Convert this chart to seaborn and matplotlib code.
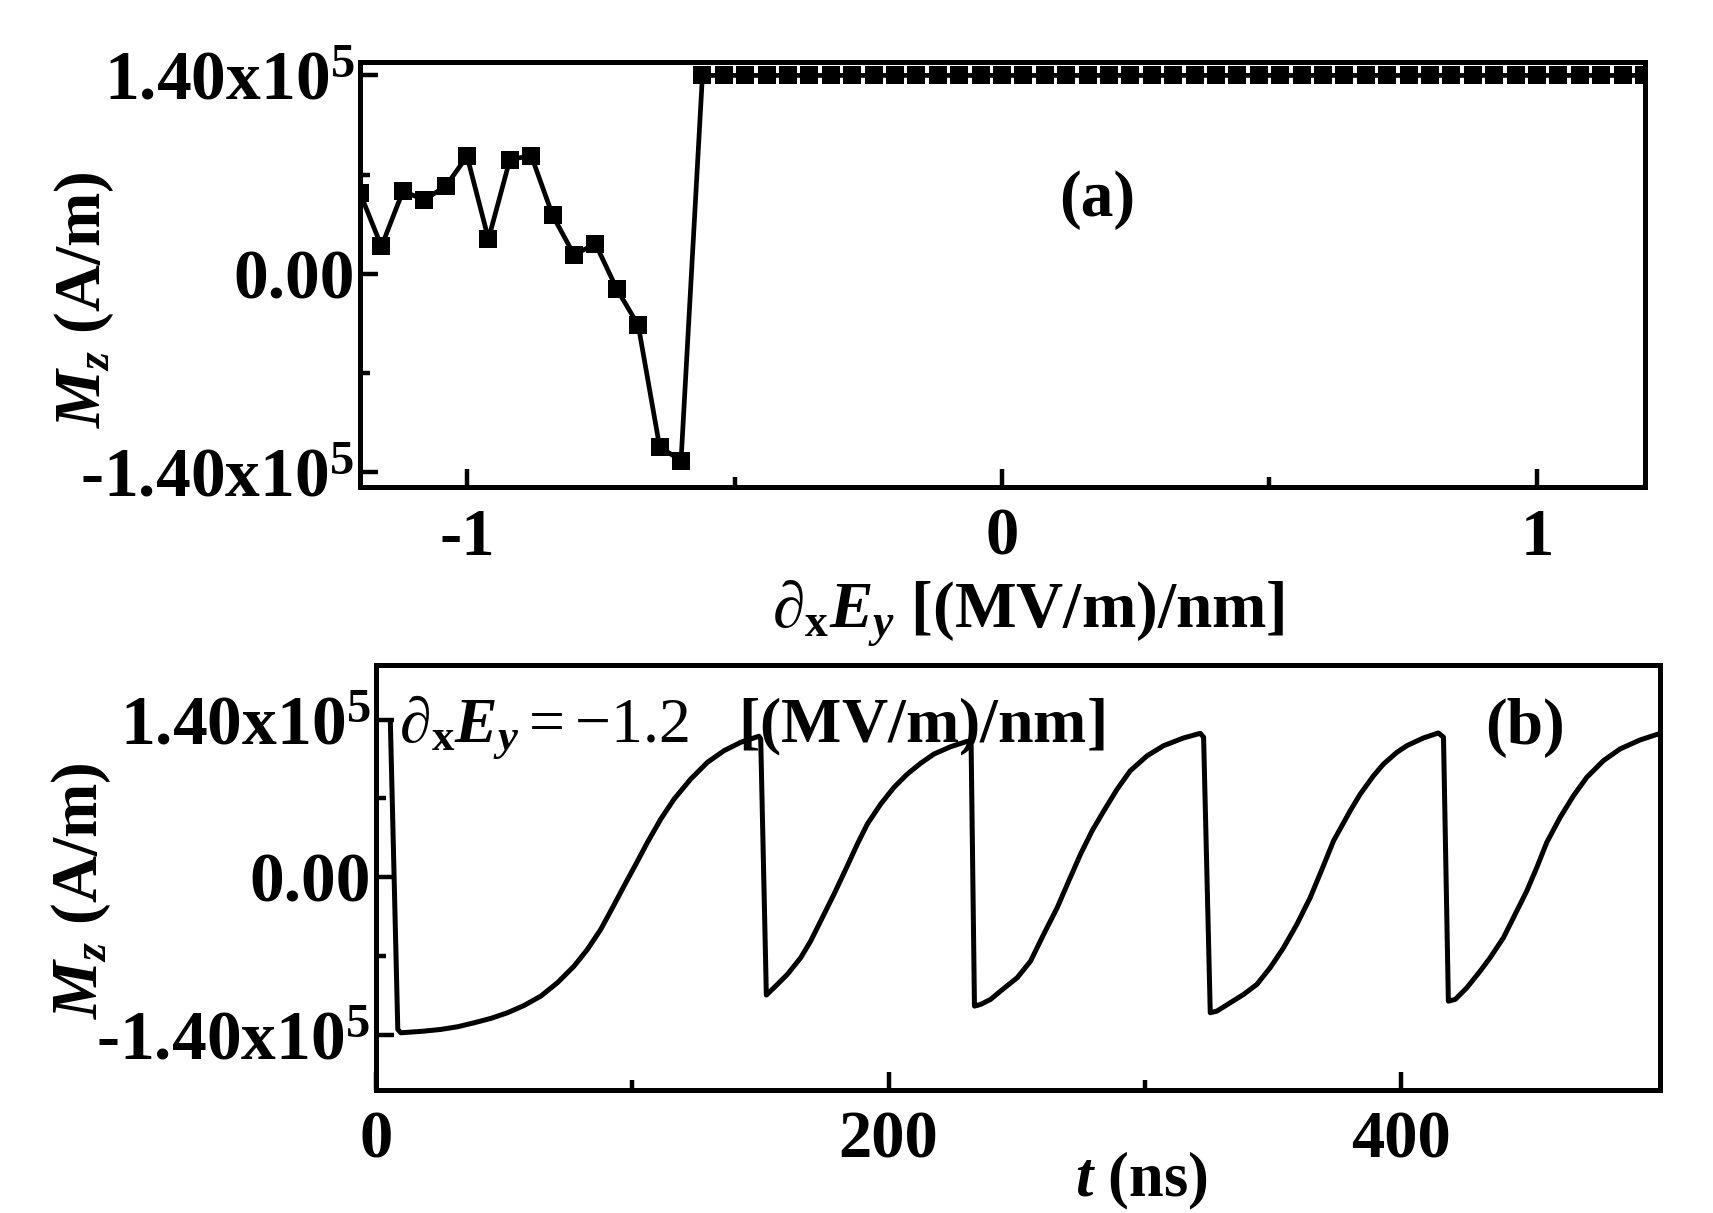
import numpy as np
import pandas as pd
import matplotlib
matplotlib.use('Agg')
import matplotlib.pyplot as plt
import seaborn as sns

# (a) Mz vs dxEy
grad_E = [-1.20, -1.16, -1.12, -1.08, -1.04, -1.00, -0.96, -0.92, -0.88, -0.84,
          -0.80, -0.76, -0.72, -0.68, -0.64, -0.60, -0.56, -0.52, -0.48, -0.44,
          -0.40, -0.36, -0.32, -0.28, -0.24, -0.20, -0.16, -0.12, -0.08, -0.04,
          0.00, 0.04, 0.08, 0.12, 0.16, 0.20, 0.24, 0.28, 0.32, 0.36,
          0.40, 0.44, 0.48, 0.52, 0.56, 0.60, 0.64, 0.68, 0.72, 0.76,
          0.80, 0.84, 0.88, 0.92, 0.96, 1.00, 1.04, 1.08, 1.12, 1.16, 1.20]
mz_a = [57000, 19300, 58200, 52300, 61700, 83000, 24500, 80600, 83400, 41200,
        13400, 21200, -10800, -36300, -122100, -132000, 140000, 140000, 140000, 140000,
        140000, 140000, 140000, 140000, 140000, 140000, 140000, 140000, 140000, 140000,
        140000, 140000, 140000, 140000, 140000, 140000, 140000, 140000, 140000, 140000,
        140000, 140000, 140000, 140000, 140000, 140000, 140000, 140000, 140000, 140000,
        140000, 140000, 140000, 140000, 140000, 140000, 140000, 140000, 140000, 140000, 140000]

# (b) Mz(t) at dxEy = -1.2
t_ns = [5.6, 8.5, 9.7, 18.8, 25.3, 31.9, 38.3, 44.8, 51.3, 57.8,
        64.3, 70.8, 77.3, 82.5, 87.7, 92.3, 96.8, 101.4, 105.9, 111.1,
        116.3, 122.8, 129.3, 135.8, 142.3, 149.4, 150.1, 152.3, 156.6, 160.5,
        165.7, 169.6, 173.5, 178.7, 183.9, 187.8, 191.7, 196.9, 202.1, 207.3,
        212.5, 217.7, 224.2, 230.7, 232.2, 233.5, 235.9, 239.8, 243.7, 250.2,
        255.4, 260.5, 265.8, 270.3, 274.9, 279.4, 284.0, 289.2, 294.3, 300.9,
        307.3, 315.1, 321.6, 322.9, 325.5, 328.1, 333.3, 338.5, 343.7, 348.9,
        354.1, 359.3, 364.5, 369.1, 373.6, 380.1, 384.0, 389.2, 393.1, 398.3,
        402.2, 408.7, 414.5, 416.5, 418.4, 421.1, 425.6, 430.8, 434.7, 439.9,
        443.8, 449.0, 452.9, 456.8, 462.0, 467.2, 472.4, 478.9, 485.4, 493.2, 500.3]
mz_b = [138000, -135200, -138200, -136700, -135200, -132800, -129300, -125400, -120400, -113900,
        -105600, -93700, -78900, -64100, -46300, -27000, -7700, 11600, 30900, 51600,
        69400, 87200, 102000, 112400, 119800, 125200, 122800, -104700, -95200, -86300,
        -71500, -56700, -38900, -15100, 10100, 29400, 47200, 64900, 79800, 91600,
        101200, 109400, 115900, 120700, 116800, -114500, -113000, -108500, -101100, -89200,
        -74500, -50700, -27000, -3300, 20500, 41200, 59000, 78300, 94600, 107900,
        116800, 123700, 127800, 124300, -120400, -118900, -111500, -104100, -95200, -80300,
        -62600, -41800, -18100, 7100, 32300, 59000, 73800, 90100, 100500, 110900,
        116800, 123700, 128100, 124300, -110100, -108500, -98200, -83400, -71500, -53700,
        -35900, -12200, 8600, 30900, 53100, 72300, 88700, 103500, 113900, 121900, 127200]

sns.set_style('ticks')
plt.rcParams['font.family'] = ['Liberation Serif', 'DejaVu Serif']
plt.rcParams['font.weight'] = 'bold'
plt.rcParams['axes.labelweight'] = 'bold'
plt.rcParams['text.color'] = 'black'
plt.rcParams['axes.labelcolor'] = 'black'
plt.rcParams['xtick.color'] = 'black'
plt.rcParams['ytick.color'] = 'black'
plt.rcParams['axes.unicode_minus'] = False
plt.rcParams['mathtext.fontset'] = 'custom'
plt.rcParams['mathtext.rm'] = 'Liberation Serif:bold'
plt.rcParams['mathtext.bf'] = 'Liberation Serif:bold'
plt.rcParams['mathtext.it'] = 'Liberation Serif:italic:bold'
plt.rcParams['mathtext.cal'] = 'Liberation Serif:italic:weight=normal'
plt.rcParams['mathtext.sf'] = 'Liberation Serif:weight=normal'

fig = plt.figure(figsize=(17.13, 12.13), dpi=100)
ax1 = fig.add_axes([0.2102, 0.5985, 0.7501, 0.3504])
ax2 = fig.add_axes([0.2195, 0.1014, 0.7496, 0.3504])

ytick_lab = ['-1.40x10$^{5}$', '0.00', '1.40x10$^{5}$']
lab_fs = 47

# 上图
sns.lineplot(x=grad_E, y=mz_a, ax=ax1, color='black', linewidth=3.4, marker='s',
             markersize=13, markeredgewidth=0, estimator=None, sort=False)
ax1.set_xlim(-1.2, 1.202)
ax1.set_ylim(-1.505e5, 1.495e5)
ax1.set_xticks([-1, 0, 1], labels=['-1', '0', '1'])
ax1.set_xticks([-0.5, 0.5], minor=True)
ax1.set_yticks([-1.4e5, 0, 1.4e5], labels=ytick_lab)
ax1.set_yticks([-0.7e5, 0.7e5], minor=True)
ax1.set_xlabel(r'$\mathcal{\partial}_{\mathrm{x}}E_{y}$ [(MV/m)/nm]', fontsize=lab_fs, fontweight='bold')
ax1.xaxis.set_label_coords(0.52, -0.215)
ax1.set_ylabel(r'$M_{z}$ (A/m)', fontsize=lab_fs, fontweight='bold')
ax1.yaxis.set_label_coords(-0.19, 0.44)
ax1.text(0.574, 0.675, '(a)', transform=ax1.transAxes, ha='center', va='center',
         fontsize=lab_fs, fontweight='bold')

# 下图
sns.lineplot(x=t_ns, y=mz_b, ax=ax2, color='black', linewidth=3.6,
             estimator=None, sort=False)
ax2.set_xlim(0, 501)
ax2.set_ylim(-1.89e5, 1.885e5)
ax2.set_xticks([0, 200, 400], labels=['0', '200', '400'])
ax2.set_xticks([100, 300], minor=True)
ax2.set_yticks([-1.4e5, 0, 1.4e5], labels=ytick_lab)
ax2.set_yticks([-0.7e5, 0.7e5], minor=True)
ax2.set_xlabel(r'$t$ (ns)', fontsize=45, fontweight='bold')
ax2.xaxis.set_label_coords(0.596, -0.14)
ax2.set_ylabel(r'$M_{z}$ (A/m)', fontsize=lab_fs, fontweight='bold')
ax2.yaxis.set_label_coords(-0.205, 0.47)
ax2.text(0.895, 0.852, '(b)', transform=ax2.transAxes, ha='center', va='center',
         fontsize=lab_fs, fontweight='bold')
ax2.text(0.018, 0.821, r'$\mathcal{\partial}_{\mathrm{x}}E_{y}\mathsf{= -1.2}$   [(MV/m)/nm]',
         transform=ax2.transAxes, ha='left', va='baseline', fontsize=46, fontweight='bold')

for ax in (ax1, ax2):
    ax.tick_params(which='both', direction='in', width=3.2, top=False, right=False)
    ax.tick_params(which='major', length=13)
    ax.tick_params(which='minor', length=7)
    ax.tick_params(axis='y', pad=4, labelsize=50)
    ax.tick_params(axis='x', pad=15, labelsize=48)
    for sp in ax.spines.values():
        sp.set_linewidth(3.6)
        sp.set_color('black')

fig.savefig('out.png', dpi=100)
